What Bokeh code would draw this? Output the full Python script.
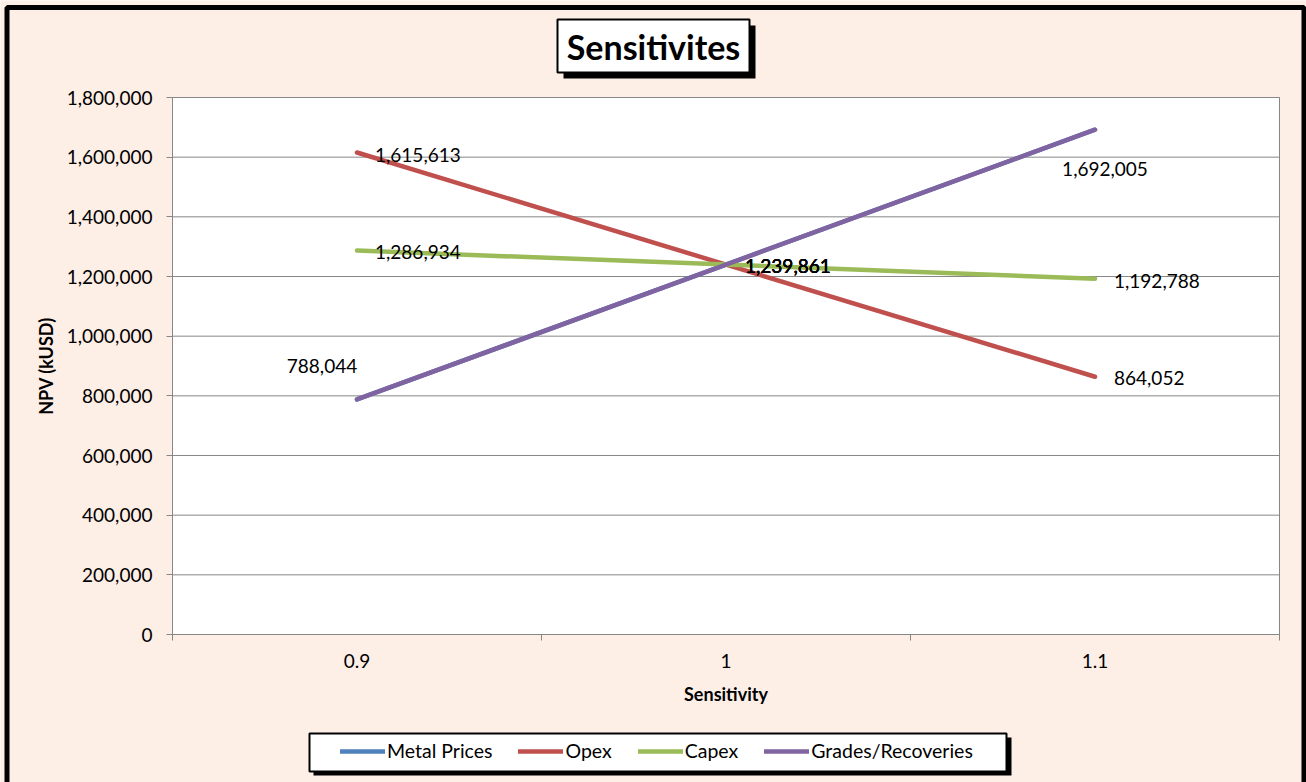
from bokeh.plotting import figure
from bokeh.models import (Range1d, FixedTicker, NumeralTickFormatter, CustomJSTickFormatter,
                          BoxAnnotation, Label, Legend, LegendItem, ColumnDataSource)
from bokeh.core.properties import value
from bokeh.embed import file_html
from bokeh.resources import INLINE

# ---------------- data ----------------
sensitivity = [0.9, 1.0, 1.1]
x_tick_labels = ["0.9", "1", "1.1"]
metal_prices = [788044, 1239861, 1692005]
opex = [1615613, 1239861, 864052]
capex = [1286934, 1239861, 1192788]
grades_recoveries = [788044, 1239861, 1692005]
y_ticks = [0, 200000, 400000, 600000, 800000, 1000000, 1200000, 1400000, 1600000, 1800000]

series_names = ["Metal Prices", "Opex", "Capex", "Grades/Recoveries"]
series_values = [metal_prices, opex, capex, grades_recoveries]
series_colors = ["#4F81BD", "#C0504D", "#9BBB59", "#8064A2"]

title_text = "Sensitivites"
x_title = "Sensitivity"
y_title = "NPV (kUSD)"

# data-label placement (style only): (dx, dy, align) per point, None = no label
label_style = {
    "Metal Prices": [None, (19, 1, "left"), None],
    "Opex": [(18, 2, "left"), (19, 1, "left"), (19, 1, "left")],
    "Capex": [(18, 1, "left"), (19, 1, "left"), (19, 2, "left")],
    "Grades/Recoveries": [(-35, -33, "center"), (19, 1, "left"), (10, 39, "center")],
}

# ---------------- style / layout ----------------
BG = "#FDEEE6"
GRID = "#878787"
FONT = "Lato"
W, H = 1306, 782
PL, PR, PT, PB = 172, 1279, 97, 634          # plot-area edges in pixels

step = sensitivity[1] - sensitivity[0]
x_lo = sensitivity[0] - step / 2
x_hi = sensitivity[-1] + step / 2
y_lo, y_hi = y_ticks[0], y_ticks[-1]
boundaries = [x_lo] + [(a + b) / 2 for a, b in zip(sensitivity[:-1], sensitivity[1:])] + [x_hi]

# the frame covers the whole canvas; ranges extended so the plot area lands on PL..PR / PT..PB
kx = (x_hi - x_lo) / (PR - PL)
ky = (y_hi - y_lo) / (PB - PT)
X0, X1 = x_lo - PL * kx, x_hi + (W - PR) * kx
Y1, Y0 = y_hi + PT * ky, y_lo - (H - PB) * ky


def PX(px):
    return X0 + px * kx


def PY(py):
    return Y1 - py * ky


p = figure(width=W, height=H, output_backend="svg", toolbar_location=None,
           x_range=Range1d(X0, X1), y_range=Range1d(Y0, Y1),
           min_border=0, min_border_left=0, min_border_right=0, min_border_top=0, min_border_bottom=0,
           background_fill_color=BG, border_fill_color=BG, outline_line_color=None)

# white plot area with grey border
p.add_layout(BoxAnnotation(left=x_lo, right=x_hi, bottom=y_lo, top=y_hi, fill_color="white", fill_alpha=1,
                           line_color=GRID, line_alpha=1, line_width=1, level="image"))

# axes, fixed inside the full-canvas frame
p.yaxis.fixed_location = x_lo
p.yaxis.bounds = (y_lo, y_hi)
p.yaxis.ticker = FixedTicker(ticks=y_ticks)
p.yaxis.formatter = NumeralTickFormatter(format="0,0")
p.yaxis.axis_line_color = GRID
p.yaxis.major_tick_line_color = GRID
p.yaxis.major_tick_out = 6
p.yaxis.major_tick_in = 0
p.yaxis.minor_tick_line_color = None
p.yaxis.major_label_standoff = 14
p.yaxis.major_label_text_font = FONT
p.yaxis.major_label_text_font_size = "19px"
p.yaxis.major_label_text_color = "black"
p.yaxis.axis_label = y_title
p.yaxis.axis_label_text_font = FONT
p.yaxis.axis_label_text_font_style = "bold"
p.yaxis.axis_label_text_font_size = "18px"
p.yaxis.axis_label_text_color = "black"
p.yaxis.axis_label_standoff = 7

p.xaxis.fixed_location = y_lo
p.xaxis.bounds = (x_lo, x_hi)
p.xaxis.ticker = FixedTicker(ticks=sensitivity, minor_ticks=boundaries)
p.xaxis.formatter = CustomJSTickFormatter(
    args=dict(vals=sensitivity, labs=x_tick_labels),
    code="for (let i = 0; i < vals.length; i++) { if (Math.abs(tick - vals[i]) < 1e-9) return labs[i]; } return '';")
p.xaxis.axis_line_color = GRID
p.xaxis.major_tick_line_alpha = 0
p.xaxis.major_tick_out = 6
p.xaxis.major_tick_in = 0
p.xaxis.minor_tick_line_color = GRID
p.xaxis.minor_tick_out = 6
p.xaxis.minor_tick_in = 0
p.xaxis.major_label_standoff = 13
p.xaxis.major_label_text_font = FONT
p.xaxis.major_label_text_font_size = "19px"
p.xaxis.major_label_text_color = "black"
p.xaxis.axis_label = x_title
p.xaxis.axis_label_text_font = FONT
p.xaxis.axis_label_text_font_style = "bold"
p.xaxis.axis_label_text_font_size = "18px"
p.xaxis.axis_label_text_color = "black"
p.xaxis.axis_label_standoff = 12

p.xgrid.visible = False
p.ygrid.visible = False

# horizontal gridlines limited to the plot area
grid_y = y_ticks[1:]
p.segment(x0=[x_lo] * len(grid_y), y0=grid_y, x1=[x_hi] * len(grid_y), y1=grid_y,
          line_color=GRID, line_width=1)

# series lines
renderers = []
for name, vals, color in zip(series_names, series_values, series_colors):
    r = p.line(sensitivity, vals, line_color=color, line_width=4.5, line_cap="round", line_join="round")
    renderers.append(r)

# data labels
groups = {"left": dict(x=[], y=[], t=[], dx=[], dy=[]), "center": dict(x=[], y=[], t=[], dx=[], dy=[])}
for name, vals in zip(series_names, series_values):
    for xv, yv, st in zip(sensitivity, vals, label_style[name]):
        if st is None:
            continue
        dx, dy, al = st
        g = groups[al]
        g["x"].append(xv); g["y"].append(yv); g["t"].append(f"{yv:,}")
        g["dx"].append(dx); g["dy"].append(dy)
for al, g in groups.items():
    src = ColumnDataSource(g)
    p.text(x="x", y="y", text="t", x_offset="dx", y_offset="dy", source=src,
           text_align=al, text_baseline="middle", text_font=value(FONT),
           text_font_size="19px", text_color="black")

# title box with shadow
p.add_layout(BoxAnnotation(left=PX(563), right=PX(755), top=PY(25), bottom=PY(78),
                           fill_color="black", fill_alpha=1, line_color=None))
p.add_layout(BoxAnnotation(left=PX(557), right=PX(749), top=PY(19), bottom=PY(72),
                           fill_color="white", fill_alpha=1, line_color="black", line_alpha=1, line_width=2))
p.add_layout(Label(x=PX(653), y=PY(46), text=title_text,
                   text_align="center", text_baseline="middle", text_font=FONT,
                   text_font_style="bold", text_font_size="34px", text_color="black"))

# legend box with shadow
p.add_layout(BoxAnnotation(left=PX(313), right=PX(1011), top=PY(737), bottom=PY(775),
                           fill_color="black", fill_alpha=1, line_color=None))
p.add_layout(BoxAnnotation(left=PX(309), right=PX(1006), top=PY(733), bottom=PY(771),
                           fill_color="white", fill_alpha=1, line_color="black", line_alpha=1, line_width=2))
legend = Legend(items=[LegendItem(label=n, renderers=[r]) for n, r in zip(series_names, renderers)],
                orientation="horizontal", location=(340, H - 762),
                glyph_width=45, glyph_height=20, label_height=20, label_standoff=2, spacing=26,
                padding=0, margin=0, border_line_alpha=0, background_fill_alpha=0,
                label_text_font=FONT, label_text_font_size="19.5px", label_text_color="black")
p.add_layout(legend)

# outer black frame
p.add_layout(BoxAnnotation(left=PX(6.5), right=PX(1303.5), top=PY(7), bottom=PY(900),
                           fill_alpha=0, line_color="black", line_alpha=1, line_width=5))

open("out.html", "w").write(file_html(p, INLINE))
